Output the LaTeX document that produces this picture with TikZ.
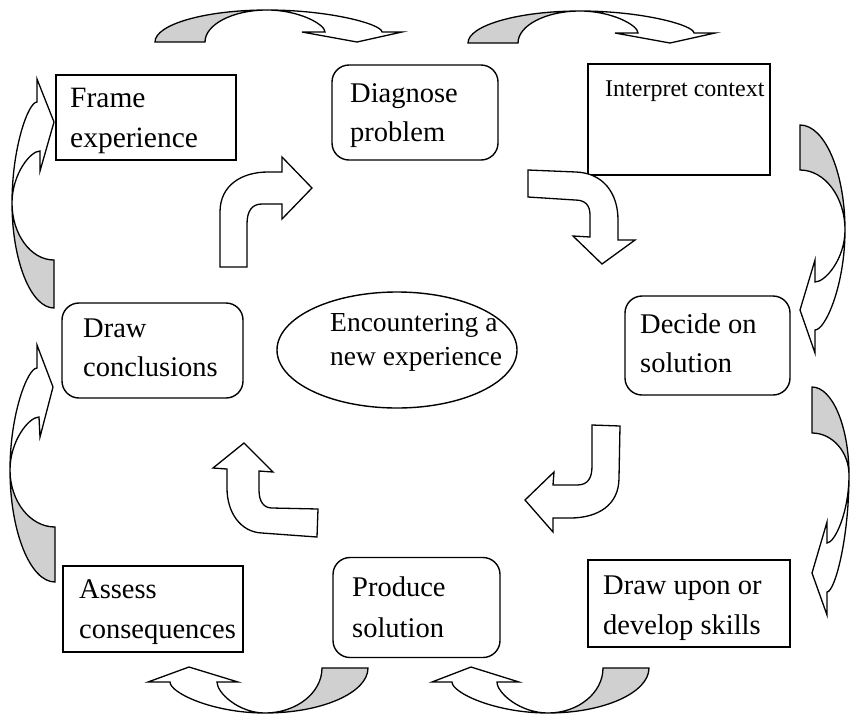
\documentclass[tikz,border=0pt]{standalone}
\usepackage{fontspec}
\setmainfont{Liberation Serif}
\usetikzlibrary{calc,shapes.geometric}
\definecolor{bandgray}{RGB}{208,208,208}
\newcommand\setarrow[9]{%
  \coordinate (#1O) at (#2);\coordinate (#1I) at (#3);\coordinate (#1A) at (#4);
  \coordinate (#1R1) at (#5);\coordinate (#1W2) at (#6);\coordinate (#1T) at (#7);
  \coordinate (#1W1) at (#8);\coordinate (#1R2) at (#9);}
\newcommand\carrowdraw[1]{%
  \path[back] (#1O) .. controls ($(#1O)!.55!(#1KO)$) and ($(#1A)!.55!(#1KO)$) .. (#1A)
     .. controls ($(#1A)!.55!(#1KI)$) and ($(#1I)!.55!(#1KI)$) .. (#1I) -- cycle;
  \path[arr] (#1A) .. controls ($(#1A)!.55!(#1K1)$) and ($(#1R1)!.35!(#1K1)$) .. (#1R1)
     -- (#1W2) -- (#1T) -- (#1W1) -- (#1R2)
     .. controls ($(#1R2)!.35!(#1K2)$) and ($(#1A)!.55!(#1K2)$) .. (#1A) -- cycle;}
\newcommand\carrowH[1]{%
  \coordinate (#1KO) at (#1O|-#1A);\coordinate (#1KI) at (#1I|-#1A);
  \coordinate (#1K1) at (#1R1|-#1A);\coordinate (#1K2) at (#1R2|-#1A);
  \carrowdraw{#1}}
\newcommand\carrowV[1]{%
  \coordinate (#1KO) at (#1A|-#1O);\coordinate (#1KI) at (#1A|-#1I);
  \coordinate (#1K1) at (#1A|-#1R1);\coordinate (#1K2) at (#1A|-#1R2);
  \carrowdraw{#1}}
\begin{document}
\begin{tikzpicture}[x=1pt,y=-1pt,
  box/.style={draw, line width=1.4pt, inner sep=0pt, outer sep=0pt},
  rbox/.style={box, rounded corners=17pt},
  lbl/.style={anchor=base west, inner sep=0pt, font=\fontsize{28.5}{34}\selectfont},
  arr/.style={draw, line width=1.3pt, fill=white, line join=miter},
  back/.style={draw, line width=1.3pt, fill=bandgray}]
\useasboundingbox (0,0) rectangle (851,716);

% boxes
\node[box,  minimum width=180pt, minimum height=85pt]  (frame)   at (146,117.5) {};
\node[rbox, minimum width=166pt, minimum height=95pt]  (diag)    at (415,112.5) {};
\node[box,  minimum width=182pt, minimum height=111pt] (interp)  at (679,119.5) {};
\node[rbox, minimum width=181pt, minimum height=95pt]  (drawc)   at (152.5,350.5) {};
\node[draw, line width=1.4pt, ellipse, inner sep=0pt, minimum width=240pt, minimum height=116pt] (enc) at (397,350) {};
\node[rbox, minimum width=165pt, minimum height=99pt]  (decide)  at (707.5,345.5) {};
\node[box,  minimum width=180pt, minimum height=86pt]  (assess)  at (153,609) {};
\node[rbox, minimum width=167pt, minimum height=100pt] (produce) at (416.5,607.5) {};
\node[box,  minimum width=202pt, minimum height=87pt]  (drawup)  at (689,603.5) {};

% labels
\node[lbl, font=\fontsize{29.5}{34}\selectfont] (frame1) at (70,107) {Frame};
\node[lbl, font=\fontsize{29.5}{34}\selectfont] (frame2) at (70,147) {experience};
\node[lbl] (diag1) at (350,102) {Diagnose};
\node[lbl] (diag2) at (350,141) {problem};
\node[lbl, font=\fontsize{24}{30}\selectfont] (interp1) at (605,96) {Interpret context};
\node[lbl] (drawc1) at (83,337) {Draw};
\node[lbl] (drawc2) at (83,376) {conclusions};
\node[lbl, font=\fontsize{27.5}{33}\selectfont] (enc1) at (330,331) {Encountering a};
\node[lbl, font=\fontsize{27.5}{33}\selectfont] (enc2) at (330,365) {new experience};
\node[lbl] (decide1) at (640,333) {Decide on};
\node[lbl] (decide2) at (640,372) {solution};
\node[lbl] (assess1) at (79,598) {Assess};
\node[lbl] (assess2) at (79,638) {consequences};
\node[lbl] (produce1) at (352,596) {Produce};
\node[lbl] (produce2) at (352,637) {solution};
\node[lbl] (drawup1) at (603,594) {Draw upon or};
\node[lbl] (drawup2) at (603,634) {develop skills};

% bent arrows
\path[arr] (220,267) -- (220,212) .. controls (220,185) and (242,172) .. (268,172) -- (282,172)
  -- (282,157) -- (312,188) -- (282,219) -- (282,204) -- (262,204)
  .. controls (252,204) and (247,211) .. (247,224) -- (247,267) -- cycle;
\path[arr] (528,170) -- (576,172) .. controls (603,173) and (618,193) .. (618,220) -- (618,240)
  -- (635,240) -- (602,264) -- (573,236) -- (590,237) -- (590,215)
  .. controls (590,205) and (585,200) .. (575,200) -- (528,197) -- cycle;
\path[arr] (592,425) -- (620,426) -- (619,478) .. controls (619,505) and (598,518) .. (570,518)
  -- (553,518) -- (553,532) -- (525,500) -- (554,472) -- (553,485) -- (577,485)
  .. controls (588,485) and (592,478) .. (592,466) -- cycle;
\path[arr] (244,443) -- (273,472) -- (259,471) -- (259,490)
  .. controls (259,502) and (264,508) .. (272,508) -- (318,509) -- (317,537) -- (262,533)
  .. controls (240,532) and (227,512) .. (227,488) -- (227,469) -- (213,468) -- cycle;

% curved arrows
\setarrow{tl}{155,42}{205,42}{267,10}{382,32}{402,32}{357,42}{302,32}{325,32}
\carrowH{tl}
\setarrow{tr}{468,43}{518,43}{580,11}{694,33}{715,33}{670,43}{615,33}{638,33}
\carrowH{tr}
\setarrow{bl}{368,668}{322,668}{265,713}{170,682}{148,682}{189,667}{238,682}{217,682}
\carrowH{bl}
\setarrow{br}{649,668}{603,668}{548,713}{452,682}{432,682}{471,667}{519,682}{497,682}
\carrowH{br}
\setarrow{rt}{800,125}{800,170}{845,230}{815,330}{815,353}{800,310}{815,260}{815,282}
\carrowV{rt}
\setarrow{rb}{812,387}{812,433}{849,475}{827,592}{827,615}{812,573}{827,522}{827,543}
\carrowV{rb}
\setarrow{lt}{54,308}{54,260}{12,203}{37,102}{37,79}{54,122}{40,171}{40,151}
\carrowV{lt}
\setarrow{lb}{55,582}{55,527}{10,470}{37,368}{37,345}{53,387}{40,437}{39,417}
\carrowV{lb}
\end{tikzpicture}
\end{document}
